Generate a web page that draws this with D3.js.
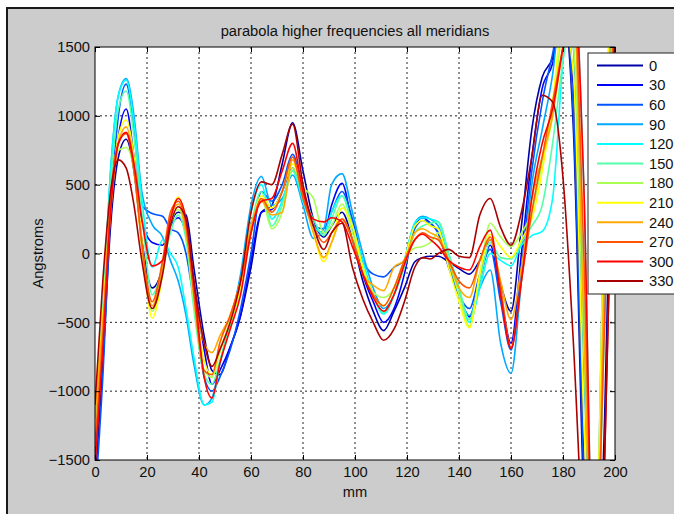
<!DOCTYPE html>
<html>
<head>
<meta charset="utf-8">
<script src="https://cdn.jsdelivr.net/npm/d3@7"></script>
<style>
  body { margin: 0; background: #fff; }
  svg text { font-family: "Liberation Sans", Arial, sans-serif; font-size: 14.7px; fill: #111; }
</style>
</head>
<body>
<div id="chart"></div>
<script>
// x positions (mm) shared by all meridians
const mm = [0,3,6,9,12,15,18,22,26,29,32,35,38,42,45,48,52,56,60,64,68,72,76,80,84,88,91,95,99,103,107,111,115,119,123,126,129,132,136,140,144,148,152,156,160,164,168,172,176,180,184,188,192,196,200];

const meridians = ["0","30","60","90","120","150","180","210","240","270","300","330"];
const colors = ["#0000aa","#0000ff","#0055ff","#00aaff","#00ffff","#55ffaa","#aaff55","#ffff00","#ffaa00","#ff5500","#ff0000","#aa0000"];

// values in Angstroms, one array per meridian
const m0   = [-1700,-800,200,700,830,600,100,-250,-100,200,300,280,-100,-600,-850,-880,-680,-450,-100,300,350,650,950,600,250,120,200,300,100,-200,-420,-560,-420,-250,-60,-30,-20,-20,-60,-110,-150,-50,100,-220,-420,200,900,1280,1420,1750,900,-1800,-3000,-1200,2000];
const m30  = [-1500,-600,300,850,1050,700,250,80,60,200,260,150,-200,-700,-950,-850,-680,-450,-50,300,320,450,620,400,200,150,350,510,200,-150,-350,-500,-400,-150,200,260,220,150,-100,-300,-460,-200,60,-300,-650,0,700,1200,1380,1800,1200,-1500,-3000,0,2500];
const m60  = [-1800,-900,300,1000,1230,900,350,290,270,180,150,0,-350,-900,-1000,-900,-700,-400,0,450,380,500,720,450,200,180,300,450,250,-50,-150,-170,-100,-50,180,240,220,150,-80,-300,-400,-150,30,-350,-700,-100,600,1100,1450,1800,1000,-1600,-3000,300,2500];
const m90  = [-1400,-500,600,1150,1270,1000,450,210,120,-50,-200,-450,-800,-1100,-1050,-800,-500,-150,350,560,350,400,570,350,110,180,500,580,300,0,-250,-400,-300,-50,220,270,250,200,-50,-300,-450,-250,-120,-650,-870,-200,500,900,1300,1900,1500,-800,-2500,500,3000];
const m120 = [-1300,-400,600,1150,1260,950,400,-100,100,0,-100,-400,-750,-1100,-1080,-800,-520,-200,300,500,250,380,600,380,200,150,300,420,200,-50,-300,-440,-300,-50,220,260,250,230,0,-250,-500,-250,0,-50,-90,60,130,160,400,1400,2000,500,-2500,-500,2500];
const m150 = [-1200,-400,500,1050,1180,850,300,-300,-100,150,280,100,-400,-880,-950,-780,-520,-250,200,450,200,350,600,420,250,130,250,420,200,-100,-300,-430,-300,-100,150,200,220,230,0,-250,-480,-200,80,-30,-40,80,200,350,800,1400,1800,-300,-2500,0,3000];
const m180 = [-1300,-500,400,750,770,600,50,-420,-150,200,320,150,-350,-850,-900,-720,-480,-200,150,400,180,300,620,480,400,150,200,360,150,-100,-280,-320,-250,-50,40,50,80,150,-50,-300,-530,-150,220,120,50,150,300,650,1000,1600,1500,-700,-2500,200,3000];
const m210 = [-1100,-450,350,850,970,700,100,-470,-150,250,410,200,-300,-780,-880,-700,-500,-250,150,420,330,450,650,450,150,-60,80,330,200,-100,-300,-380,-250,-50,200,240,200,180,-100,-350,-540,-150,140,50,-30,100,250,600,1100,1700,1300,-1200,-2500,500,3000];
const m240 = [-1200,-500,300,800,920,650,50,-380,-100,250,360,150,-250,-650,-720,-600,-450,-200,200,380,280,300,680,420,150,-30,80,250,100,-150,-230,-270,-100,-50,150,180,150,120,-50,-250,-320,-50,100,-200,-480,-100,400,700,1000,1500,1800,-500,-2800,0,3000];
const m270 = [-1400,-600,400,800,870,600,80,-350,-50,300,380,200,-300,-850,-880,-650,-450,-200,150,400,300,450,700,400,200,80,150,250,100,-150,-300,-380,-250,-50,100,150,120,100,-50,-200,-250,-50,120,-250,-680,-200,300,700,1100,1500,1900,0,-2500,-500,2000];
const m300 = [-1550,-700,300,800,880,650,250,-90,-50,250,400,250,-200,-900,-1050,-800,-550,-300,150,380,400,600,800,450,250,230,260,230,50,-150,-320,-420,-300,-80,100,140,100,50,-50,-100,-120,50,170,-300,-690,-200,400,800,1050,1500,2000,500,-2500,-1500,1500];
const m330 = [-1100,-200,450,680,620,350,-50,-400,-150,200,340,250,-200,-650,-820,-700,-500,-200,300,520,500,720,940,500,200,30,150,220,-100,-330,-500,-630,-550,-350,-100,-30,-40,0,30,-20,-30,280,400,190,60,300,700,1150,1100,550,-650,-2200,-3000,-1500,1500];

const series = [m0,m30,m60,m90,m120,m150,m180,m210,m240,m270,m300,m330];

const xTicks = d3.range(0, 201, 20);
const yTicks = [-1500,-1000,-500,0,500,1000,1500];

// set the dimensions and margins of the graph
let margin = {top: 47, left: 95},
    width = 520,
    height = 413;

let root = d3.select("#chart")
    .append("svg")
    .attr("width", 674)
    .attr("height", 514);

// figure background with its border
root.append("rect")
    .attr("x", 7).attr("y", 8)
    .attr("width", 700).attr("height", 520)
    .attr("fill", "#cccccc")
    .attr("stroke", "#1a1a1a")
    .attr("stroke-width", 2);

let svg = root.append("g")
    .attr("transform", `translate(${margin.left}, ${margin.top})`);

const x = d3.scaleLinear().domain([0, 200]).range([0, width]);
const y = d3.scaleLinear().domain([-1500, 1500]).range([height, 0]);

svg.append("rect")
    .attr("width", width).attr("height", height)
    .attr("fill", "#fff");

// dotted grid
svg.append("g").selectAll("line")
    .data(xTicks.slice(1, -1))
    .join("line")
    .attr("x1", d => x(d)).attr("x2", d => x(d))
    .attr("y1", 0).attr("y2", height)
    .attr("stroke", "#222").attr("stroke-dasharray", "2,3");
svg.append("g").selectAll("line")
    .data(yTicks.slice(1, -1))
    .join("line")
    .attr("y1", d => y(d)).attr("y2", d => y(d))
    .attr("x1", 0).attr("x2", width)
    .attr("stroke", "#222").attr("stroke-dasharray", "2,3");

// lines, clipped to the axes
svg.append("clipPath").attr("id", "clip")
    .append("rect").attr("width", width).attr("height", height);

const line = d3.line()
    .x((d, i) => x(mm[i]))
    .y(d => y(d))
    .curve(d3.curveMonotoneX);

svg.append("g")
    .attr("clip-path", "url(#clip)")
    .selectAll("path")
    .data(series)
    .join("path")
    .attr("d", line)
    .attr("fill", "none")
    .attr("stroke", (d, i) => colors[i])
    .attr("stroke-width", 1.6)
    .attr("stroke-linejoin", "round");

// axes with inward ticks
const fmt = d3.format("d");
svg.append("g")
    .attr("transform", `translate(0, ${height})`)
    .call(d3.axisBottom(x).tickValues(xTicks).tickFormat(fmt).tickSizeInner(-5).tickSizeOuter(0).tickPadding(7))
    .call(g => g.select(".domain").remove());
svg.append("g")
    .call(d3.axisLeft(y).tickValues(yTicks).tickFormat(fmt).tickSizeInner(-5).tickSizeOuter(0).tickPadding(5))
    .call(g => g.select(".domain").remove());
svg.append("g")
    .call(d3.axisTop(x).tickValues(xTicks).tickSizeInner(-5).tickSizeOuter(0).tickFormat(""))
    .call(g => g.select(".domain").remove());
svg.append("g")
    .attr("transform", `translate(${width}, 0)`)
    .call(d3.axisRight(y).tickValues(yTicks).tickSizeInner(-5).tickSizeOuter(0).tickFormat(""))
    .call(g => g.select(".domain").remove());
svg.selectAll(".tick text").attr("font-size", null).attr("font-family", null);
svg.selectAll(".tick line").attr("stroke", "#000");

svg.append("rect")
    .attr("width", width).attr("height", height)
    .attr("fill", "none").attr("stroke", "#000");

// title and labels
svg.append("text")
    .attr("x", width / 2).attr("y", -11)
    .attr("text-anchor", "middle")
    .text("parabola higher frequencies all meridians");
svg.append("text")
    .attr("x", width / 2).attr("y", height + 37)
    .attr("text-anchor", "middle")
    .text("mm");
svg.append("text")
    .attr("transform", `translate(-52, ${height / 2}) rotate(-90)`)
    .attr("text-anchor", "middle")
    .text("Angstroms");

// legend
let legend = root.append("g").attr("transform", "translate(588, 53)");
legend.append("rect")
    .attr("width", 120).attr("height", 241)
    .attr("fill", "#fff").attr("stroke", "#222");
let item = legend.selectAll("g.item")
    .data(meridians)
    .join("g")
    .attr("class", "item")
    .attr("transform", (d, i) => `translate(0, ${12.5 + i * 19.6})`);
item.append("line")
    .attr("x1", 9).attr("x2", 55)
    .attr("stroke", (d, i) => colors[i])
    .attr("stroke-width", 2);
item.append("text")
    .attr("x", 61).attr("dy", "0.36em")
    .text(d => d);
</script>
</body>
</html>
